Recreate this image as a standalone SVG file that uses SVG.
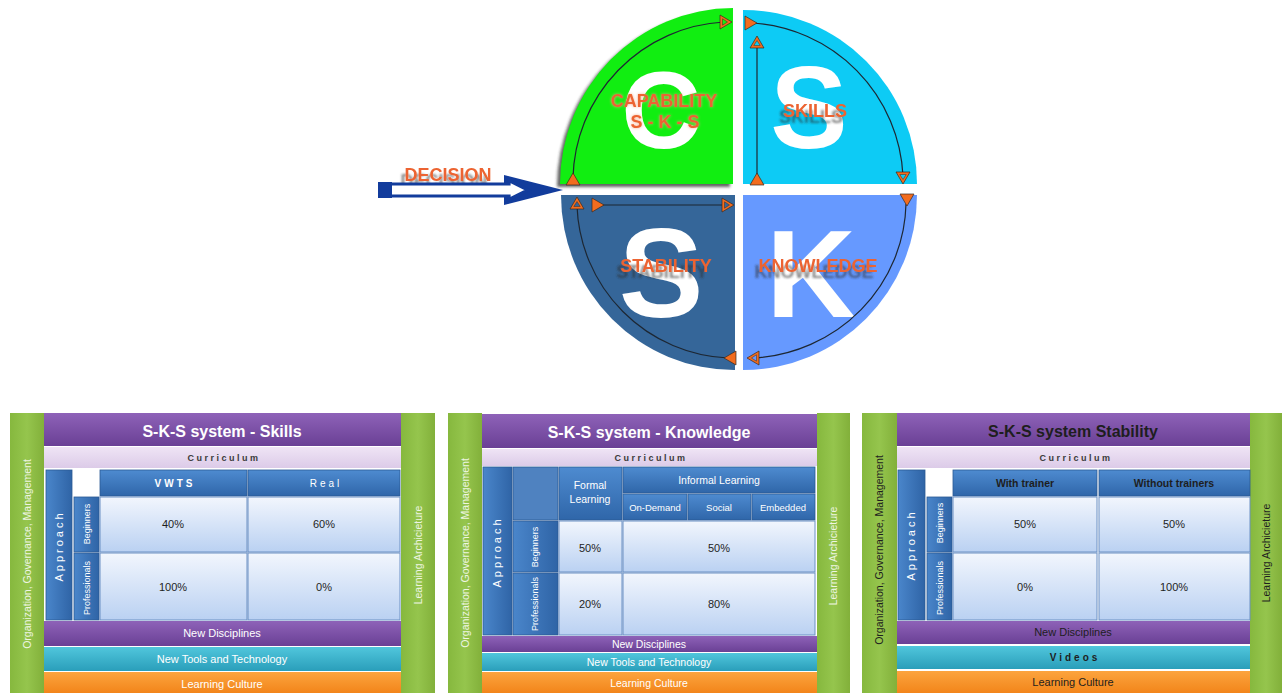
<svg xmlns="http://www.w3.org/2000/svg" width="1282" height="693" viewBox="0 0 1282 693">
<defs>
<style>
text{font-family:"Liberation Sans",Arial,sans-serif}
.big{font-weight:bold;fill:#fff;text-anchor:middle}
.lbl{font-size:18px;font-weight:bold;fill:#EC6430;text-anchor:middle}
.shd{filter:url(#tshadow)}
.glw{filter:url(#tglow)}
.arc{fill:none;stroke:#1d2733;stroke-width:1.2}
.t{text-anchor:middle}
.ttl{font-size:16px;font-weight:bold}
.cur{font-size:9px;font-weight:bold;fill:#3a3a3a;letter-spacing:2.5px}
.w{fill:#fff}
.d{fill:#1e1e1e}
.lg{fill:#EEF5E2}
.b{font-weight:bold}
.s11{font-size:11px}
.s105{font-size:10.5px}
.s10{font-size:10px}
.s95{font-size:9.5px}
.s9{font-size:9px}
.sp3{letter-spacing:3px}
.cell{fill:url(#gCell);stroke:#6A90C4;stroke-width:1}
.hdr{fill:url(#gHdr);stroke:#2C5A95;stroke-width:0.8}
.apr{fill:url(#gAppr);stroke:#2C5A95;stroke-width:0.8}
.grn{fill:url(#gGreen)}
.pur{fill:url(#gPurple)}
.cu{fill:url(#gCur)}
.cy{fill:url(#gCyan)}
.or{fill:url(#gOrange)}
</style>
<filter id="tshadow" x="-20%" y="-60%" width="140%" height="220%">
<feOffset in="SourceAlpha" dx="-4" dy="6" result="o"/>
<feGaussianBlur in="o" stdDeviation="0.9" result="b"/>
<feFlood flood-color="#2a2a2a" flood-opacity="0.55"/>
<feComposite in2="b" operator="in" result="s"/>
<feMerge><feMergeNode in="s"/><feMergeNode in="SourceGraphic"/></feMerge>
</filter>
<filter id="tglow" x="-20%" y="-60%" width="140%" height="220%">
<feGaussianBlur in="SourceAlpha" stdDeviation="1.6" result="b"/>
<feFlood flood-color="#F4A682" flood-opacity="0.9"/>
<feComposite in2="b" operator="in" result="s"/>
<feMerge><feMergeNode in="s"/><feMergeNode in="SourceGraphic"/></feMerge>
</filter>
<filter id="blur2" x="-10%" y="-10%" width="120%" height="120%"><feGaussianBlur stdDeviation="1.5"/></filter>
<linearGradient id="gGreen" x1="0" y1="0" x2="1" y2="0"><stop offset="0" stop-color="#86B83E"/><stop offset="0.5" stop-color="#95C54D"/><stop offset="1" stop-color="#82B03A"/></linearGradient>
<linearGradient id="gPurple" x1="0" y1="0" x2="0" y2="1"><stop offset="0" stop-color="#8E62B8"/><stop offset="1" stop-color="#6A4095"/></linearGradient>
<linearGradient id="gCur" x1="0" y1="0" x2="0" y2="1"><stop offset="0" stop-color="#EFE4F5"/><stop offset="1" stop-color="#DCCBE8"/></linearGradient>
<linearGradient id="gHdr" x1="0" y1="0" x2="0" y2="1"><stop offset="0" stop-color="#4E8BD0"/><stop offset="1" stop-color="#2F66A9"/></linearGradient>
<linearGradient id="gAppr" x1="0" y1="0" x2="1" y2="0"><stop offset="0" stop-color="#4A86CB"/><stop offset="1" stop-color="#2F64A6"/></linearGradient>
<linearGradient id="gCell" x1="0" y1="0" x2="0" y2="1"><stop offset="0" stop-color="#F2F6FD"/><stop offset="1" stop-color="#BAD1F2"/></linearGradient>
<linearGradient id="gCyan" x1="0" y1="0" x2="0" y2="1"><stop offset="0" stop-color="#50C6DC"/><stop offset="1" stop-color="#2A9EBA"/></linearGradient>
<linearGradient id="gOrange" x1="0" y1="0" x2="0" y2="1"><stop offset="0" stop-color="#FCA43E"/><stop offset="1" stop-color="#F2851A"/></linearGradient>
<g id="tf"><polygon points="0,-6 7,6 -7,6" fill="#F26C1E" stroke="#3a2a20" stroke-width="0.7"/></g>
<g id="th"><polygon points="0,-6 7,6 -7,6" fill="#F26C1E" stroke="#3a2a20" stroke-width="0.7"/><polygon points="0,-1.5 3.2,3.5 -3.2,3.5" fill="currentColor" stroke="#3a2a20" stroke-width="0.5"/></g>
</defs>

<rect width="1282" height="693" fill="#ffffff"/>

<!-- circle quadrants -->
<g id="node-capability">
<path d="M733,184 L560,184 A173,176 0 0 1 733,8 Z" transform="translate(-3,3)" fill="#222" opacity="0.7" filter="url(#blur2)"/>
<path d="M733,184 L560,184 A173,176 0 0 1 733,8 Z" fill="#11EE11"/>
<text x="661" y="148" class="big" font-size="110">C</text>
<text x="664" y="107" class="lbl glw">CAPABILITY</text>
<text x="665" y="128" class="lbl glw">S - K - S</text>
</g>
<g id="node-skills">
<path d="M743,184 L743,10 A174,174 0 0 1 917,184 Z" fill="#0DCBF5"/>
<text x="809" y="148" class="big" font-size="116">S</text>
<text x="815" y="117" class="lbl shd">SKILLS</text>
</g>
<g id="node-stability">
<path d="M735,195 L735,370 A173,175 0 0 1 561,195 Z" fill="#356699"/>
<text x="661" y="317" class="big" font-size="127">S</text>
<text x="666" y="272" class="lbl shd">STABILITY</text>
</g>
<g id="node-knowledge">
<path d="M743,195 L917,195 A174,175 0 0 1 743,370 Z" fill="#6699FF"/>
<text x="811" y="317" class="big" font-size="124">K</text>
<text x="818" y="272" class="lbl shd">KNOWLEDGE</text>
</g>
<g id="node-decision">
<text x="448" y="181" class="lbl shd">DECISION</text>
</g>

<!-- connectors -->
<g id="connectors">
<!-- decision arrow -->
<polygon points="504,175 563,190 504,205" fill="#123C9C"/>
<polygon points="381,184 509,184 509,180.5 528,190 509,199.5 509,196 381,196" fill="#fff" stroke="#123C9C" stroke-width="3.2"/>
<rect x="378" y="182" width="14" height="16" fill="#123C9C"/>
<!-- green cycle -->
<path class="arc" d="M573,178 A160,160 0 0 1 724,22"/>
<use href="#tf" transform="translate(573,179)"/>
<use href="#th" transform="translate(726,22) rotate(90)" style="color:#11EE11"/>
<!-- skills cycle -->
<path class="arc" d="M752,23 A161,161 0 0 1 903,176"/>
<path class="arc" d="M757,44 V178"/>
<use href="#tf" transform="translate(751,23) rotate(90)"/>
<use href="#th" transform="translate(757,42)" style="color:#0DCBF5"/>
<use href="#tf" transform="translate(757,179)"/>
<use href="#th" transform="translate(903,178) rotate(180)" style="color:#0DCBF5"/>
<!-- stability cycle -->
<path class="arc" d="M598,205 H726"/>
<path class="arc" d="M577,206 A158,158 0 0 0 728,358"/>
<use href="#th" transform="translate(577,203)" style="color:#356699"/>
<use href="#tf" transform="translate(598,205) rotate(90)"/>
<use href="#th" transform="translate(728,205) rotate(90)" style="color:#356699"/>
<use href="#tf" transform="translate(730,358) rotate(-90)"/>
<!-- knowledge cycle -->
<path class="arc" d="M906,204 A162,158 0 0 1 755,358"/>
<use href="#tf" transform="translate(907,200) rotate(180)"/>
<use href="#th" transform="translate(753,358) rotate(-90)" style="color:#6699FF"/>
</g>

<!-- Panel 1 : Skills -->
<g id="panel-skills">
<rect x="10" y="413" width="34" height="280" class="grn"/>
<rect x="401" y="413" width="34" height="280" class="grn"/>
<rect x="44" y="413" width="357" height="33" class="pur"/>
<text x="222" y="437" class="t ttl w">S-K-S system - Skills</text>
<rect x="44" y="447" width="357" height="21" class="cu"/>
<text x="224" y="461" class="t cur">Curriculum</text>
<rect x="46" y="470" width="26" height="150" class="apr"/>
<text transform="translate(59,546) rotate(-90)" dy="0.35em" class="t w s11 sp3">Approach</text>
<rect x="74" y="471" width="25" height="25" fill="#fff"/>
<rect x="100" y="470" width="147" height="26" class="hdr"/>
<rect x="248" y="470" width="152" height="26" class="hdr"/>
<text x="175" y="487" class="t w s10 b sp3">VWTS</text>
<text x="326" y="487" class="t w s10 sp3">Real</text>
<rect x="74" y="497" width="25" height="55" class="apr"/>
<rect x="74" y="553" width="25" height="67" class="apr"/>
<text transform="translate(87,524) rotate(-90)" dy="0.35em" class="t w s9">Beginners</text>
<text transform="translate(87,588) rotate(-90)" dy="0.35em" class="t w s9">Professionals</text>
<rect x="100" y="497" width="147" height="55" class="cell"/>
<rect x="248" y="497" width="152" height="55" class="cell"/>
<rect x="100" y="553" width="147" height="67" class="cell"/>
<rect x="248" y="553" width="152" height="67" class="cell"/>
<text x="173" y="528" class="t d s11">40%</text>
<text x="324" y="528" class="t d s11">60%</text>
<text x="173" y="591" class="t d s11">100%</text>
<text x="324" y="591" class="t d s11">0%</text>
<rect x="44" y="621" width="357" height="25" class="pur"/>
<text x="222" y="637" class="t w s11">New Disciplines</text>
<rect x="44" y="647" width="357" height="24" class="cy"/>
<text x="222" y="663" class="t w s11">New Tools and Technology</text>
<rect x="44" y="672" width="357" height="21" class="or"/>
<text x="222" y="688" class="t w s11">Learning Culture</text>
<text transform="translate(27,554) rotate(-90)" dy="0.35em" class="t lg s105">Organization, Governance, Management</text>
<text transform="translate(418,555) rotate(-90)" dy="0.35em" class="t lg s105">Learning Archicieture</text>
</g>

<!-- Panel 2 : Knowledge -->
<g id="panel-knowledge">
<rect x="448" y="413" width="34" height="280" class="grn"/>
<rect x="817" y="413" width="33" height="280" class="grn"/>
<rect x="482" y="414" width="335" height="34" class="pur"/>
<text x="649" y="438" class="t ttl w">S-K-S system - Knowledge</text>
<rect x="482" y="449" width="335" height="17" class="cu"/>
<text x="651" y="461" class="t cur">Curriculum</text>
<rect x="483" y="467" width="29" height="168" class="apr"/>
<text transform="translate(497,552) rotate(-90)" dy="0.35em" class="t w s11 sp3">Approach</text>
<rect x="513" y="467" width="45" height="53" fill="#4F82C0" stroke="#2C5A95" stroke-width="0.8"/>
<rect x="559" y="467" width="63" height="53" class="hdr"/>
<text x="590" y="489" class="t w s105">Formal</text>
<text x="590" y="503" class="t w s105">Learning</text>
<rect x="623" y="467" width="192" height="26" class="hdr"/>
<text x="719" y="484" class="t w s105">Informal Learning</text>
<rect x="623" y="494" width="64" height="26" class="hdr"/>
<rect x="688" y="494" width="63" height="26" class="hdr"/>
<rect x="752" y="494" width="63" height="26" class="hdr"/>
<text x="655" y="511" class="t w s95">On-Demand</text>
<text x="719" y="511" class="t w s95">Social</text>
<text x="783" y="511" class="t w s95">Embedded</text>
<rect x="513" y="521" width="45" height="51" class="apr"/>
<rect x="513" y="573" width="45" height="62" class="apr"/>
<text transform="translate(535,547) rotate(-90)" dy="0.35em" class="t w s9">Beginners</text>
<text transform="translate(535,604) rotate(-90)" dy="0.35em" class="t w s9">Professionals</text>
<rect x="559" y="521" width="63" height="51" class="cell"/>
<rect x="623" y="521" width="192" height="51" class="cell"/>
<rect x="559" y="573" width="63" height="62" class="cell"/>
<rect x="623" y="573" width="192" height="62" class="cell"/>
<text x="590" y="552" class="t d s11">50%</text>
<text x="719" y="552" class="t d s11">50%</text>
<text x="590" y="608" class="t d s11">20%</text>
<text x="719" y="608" class="t d s11">80%</text>
<rect x="482" y="636" width="335" height="16" class="pur"/>
<text x="649" y="648" class="t w s105">New Disciplines</text>
<rect x="482" y="653" width="335" height="18" class="cy"/>
<text x="649" y="666" class="t w s105">New Tools and Technology</text>
<rect x="482" y="672" width="335" height="21" class="or"/>
<text x="649" y="687" class="t w s105">Learning Culture</text>
<text transform="translate(465,553) rotate(-90)" dy="0.35em" class="t lg s105">Organization, Governance, Management</text>
<text transform="translate(833,556) rotate(-90)" dy="0.35em" class="t lg s105">Learning Archicieture</text>
</g>

<!-- Panel 3 : Stability -->
<g id="panel-stability">
<rect x="862" y="413" width="35" height="280" class="grn"/>
<rect x="1250" y="413" width="32" height="280" class="grn"/>
<rect x="897" y="413" width="353" height="33" class="pur"/>
<text x="1073" y="437" class="t ttl d">S-K-S system Stability</text>
<rect x="897" y="447" width="353" height="21" class="cu"/>
<text x="1076" y="461" class="t cur">Curriculum</text>
<rect x="898" y="470" width="27" height="150" class="apr"/>
<text transform="translate(911,545) rotate(-90)" dy="0.35em" class="t w s11 sp3">Approach</text>
<rect x="927" y="471" width="25" height="25" fill="#fff"/>
<rect x="953" y="470" width="144" height="26" class="hdr"/>
<rect x="1099" y="470" width="151" height="26" class="hdr"/>
<text x="1025" y="487" class="t d s105 b">With trainer</text>
<text x="1174" y="487" class="t d s105 b">Without trainers</text>
<rect x="927" y="497" width="25" height="55" class="apr"/>
<rect x="927" y="553" width="25" height="67" class="apr"/>
<text transform="translate(940,523) rotate(-90)" dy="0.35em" class="t w s9">Beginners</text>
<text transform="translate(940,588) rotate(-90)" dy="0.35em" class="t w s9">Professionals</text>
<rect x="953" y="497" width="144" height="55" class="cell"/>
<rect x="1099" y="497" width="151" height="55" class="cell"/>
<rect x="953" y="553" width="144" height="67" class="cell"/>
<rect x="1099" y="553" width="151" height="67" class="cell"/>
<text x="1025" y="528" class="t d s11">50%</text>
<text x="1174" y="528" class="t d s11">50%</text>
<text x="1025" y="591" class="t d s11">0%</text>
<text x="1174" y="591" class="t d s11">100%</text>
<rect x="897" y="621" width="353" height="23" class="pur"/>
<text x="1073" y="636" class="t d s11">New Disciplines</text>
<rect x="897" y="646" width="353" height="23" class="cy"/>
<text x="1075" y="661" class="t d s10 b sp3">Videos</text>
<rect x="897" y="671" width="353" height="22" class="or"/>
<text x="1073" y="686" class="t d s11">Learning Culture</text>
<text transform="translate(879,550) rotate(-90)" dy="0.35em" class="t d s105">Organization, Governance, Management</text>
<text transform="translate(1266,553) rotate(-90)" dy="0.35em" class="t d s105">Learning Archicieture</text>
</g>
</svg>
